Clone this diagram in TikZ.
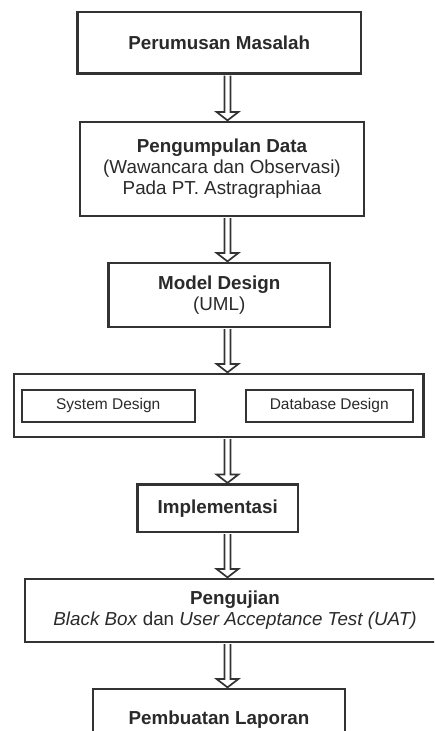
\documentclass[tikz,border=0pt]{standalone}
\usepackage{fontspec}
\setmainfont{Liberation Sans}
\definecolor{ink}{HTML}{333333}
\definecolor{txt}{HTML}{2A2A2A}
\begin{document}
\begin{tikzpicture}[x=1pt,y=-1pt,
  box/.style={draw=ink, line width=2.2pt, fill=white, inner sep=0pt, align=center,
    text=txt, font=\fontsize{18.8}{21}\selectfont},
  small/.style={box, line width=2pt, font=\fontsize{15.5}{18}\selectfont},
  arr/.style={draw=ink, line width=1.7pt, fill=white, line join=miter}]
\useasboundingbox (0,0) rectangle (434,731);
\clip (0,0) rectangle (434,731);
\coordinate (ax) at (227.5,0);

\node[box, minimum width=283.5pt, minimum height=61.5pt] (b1) at (219.25,42.75) {\textbf{Perumusan Masalah}};
\node[box, minimum width=284pt, minimum height=94pt] (b2) at (222,169)
  {\textbf{Pengumpulan Data}\\(Wawancara dan Observasi)\\Pada PT. Astragraphiaa};
\node[box, minimum width=221.5pt, minimum height=64pt] (b3) at (219.25,295)
  {\textbf{Model Design}\\(UML)};
\node[box, minimum width=409.5pt, minimum height=63pt] (b4) at (218.75,405.5) {};
\node[small, minimum width=173.5pt, minimum height=31.5pt] (sys) at (108.25,405.75) {System Design};
\node[small, minimum width=166.5pt, minimum height=31.5pt] (db) at (329.25,405.75) {Database Design};
\node[box, minimum width=160.5pt, minimum height=47.5pt] (b5) at (217.75,508.25) {\textbf{Implementasi}};
\node[box, minimum width=420pt, minimum height=63pt] (b6) at (235,610.5)
  {\textbf{Pengujian}\\\textit{Black Box} dan \textit{User Acceptance Test (UAT)}};
\node[box, minimum width=252pt, minimum height=62pt] (b7) at (219,720) {\textbf{Pembuatan Laporan}};

\newcommand\dblarrow[2]{%
  \path (#1.south -| ax) coordinate (s) (#2.north -| ax) coordinate (t);
  \draw[arr] ([xshift=-3pt,yshift=-1pt]s) -- ([xshift=-3pt,yshift=9pt]t) -- ([xshift=-11pt,yshift=9pt]t)
    -- ([yshift=0.5pt]t) -- ([xshift=11pt,yshift=9pt]t) -- ([xshift=3pt,yshift=9pt]t) -- ([xshift=3pt,yshift=-1pt]s);
}
\dblarrow{b1}{b2}
\dblarrow{b2}{b3}
\dblarrow{b3}{b4}
\dblarrow{b4}{b5}
\dblarrow{b5}{b6}
\dblarrow{b6}{b7}
\end{tikzpicture}
\end{document}
